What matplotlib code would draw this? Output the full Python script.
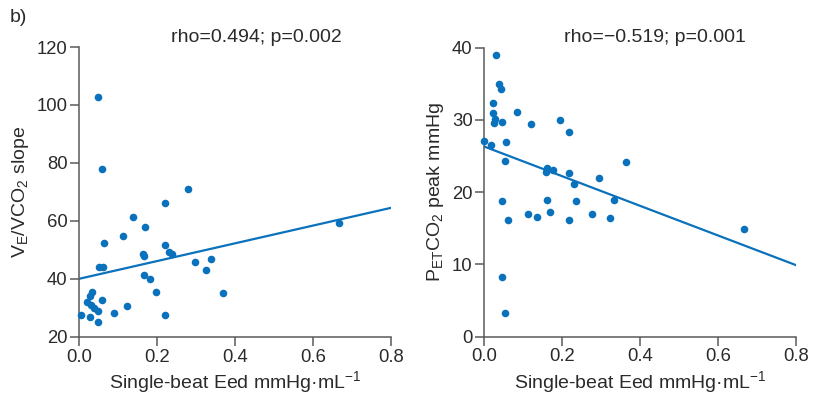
import matplotlib
matplotlib.use("Agg")
import matplotlib.pyplot as plt
import numpy as np

plt.rcParams['font.family'] = ['Liberation Sans', 'DejaVu Sans']
plt.rcParams['mathtext.fontset'] = 'custom'
plt.rcParams['mathtext.rm'] = 'Liberation Sans'

# Left panel: VE/VCO2 slope vs single-beat Eed
eed_left = [0.048, 0.057, 0.279, 0.219, 0.139, 0.169, 0.113, 0.063, 0.221, 0.163,
            0.166, 0.229, 0.238, 0.050, 0.061, 0.297, 0.337, 0.325, 0.167, 0.182,
            0.197, 0.368, 0.033, 0.027, 0.021, 0.057, 0.029, 0.038, 0.048, 0.123,
            0.088, 0.004, 0.027, 0.221, 0.048, 0.666]
ve_slope = [102.6, 78.0, 71.0, 66.3, 61.2, 57.9, 54.6, 52.4, 51.7, 48.6,
            48.0, 49.4, 48.7, 43.9, 43.9, 45.9, 46.8, 43.0, 41.3, 39.8,
            35.5, 35.1, 35.3, 33.9, 32.1, 32.8, 31.0, 29.8, 28.9, 30.6,
            28.2, 27.4, 26.8, 27.6, 25.1, 59.3]
fit_left = (40.0, 30.6)   # intercept, slope

# Right panel: PETCO2 peak vs single-beat Eed
eed_right = [0.031, 0.037, 0.043, 0.022, 0.022, 0.084, 0.028, 0.025, 0.044, 0.120,
             0.195, 0.218, 0.000, 0.017, 0.056, 0.052, 0.364, 0.160, 0.159, 0.176,
             0.217, 0.295, 0.230, 0.334, 0.162, 0.236, 0.045, 0.168, 0.111, 0.134,
             0.277, 0.061, 0.217, 0.324, 0.044, 0.053, 0.667]
petco2 = [39.0, 35.0, 34.3, 32.4, 31.0, 31.1, 30.1, 29.6, 29.7, 29.4,
          30.0, 28.3, 27.1, 26.5, 26.9, 24.3, 24.2, 23.4, 22.8, 23.0,
          22.7, 22.0, 21.1, 18.9, 18.9, 18.7, 18.7, 17.3, 17.0, 16.6,
          16.9, 16.1, 16.2, 16.4, 8.2, 3.3, 14.9]
fit_right = (26.3, -20.5)

x_ticks = [0.0, 0.2, 0.4, 0.6, 0.8]
y_ticks_left = [20, 40, 60, 80, 100, 120]
y_ticks_right = [0, 10, 20, 30, 40]

blue = '#0a72bd'
grey = '#5a5a5a'
tc = '#2a2a2a'
W, H = 813, 403
fig = plt.figure(figsize=(W / 100, H / 100), dpi=100)

def px_axes(x0, x1, ytop, ybot):
    return fig.add_axes([x0 / W, 1 - ybot / H, (x1 - x0) / W, (ybot - ytop) / H])

axL = px_axes(79.3, 391.0, 47.0, 336.7)
axR = px_axes(484.4, 795.7, 47.7, 336.5)

def style(ax, yt, ylim):
    ax.set_xlim(0, 0.8)
    ax.set_ylim(*ylim)
    ax.set_xticks(x_ticks)
    ax.set_xticklabels([f"{v:.1f}" for v in x_ticks])
    ax.set_yticks(yt)
    for s in ['top', 'right']:
        ax.spines[s].set_visible(False)
    for s in ['left', 'bottom']:
        ax.spines[s].set_color(grey)
        ax.spines[s].set_linewidth(1.1)
    ax.tick_params(direction='out', length=6.5, width=1.1, color=grey,
                   labelsize=13.3, labelcolor=tc, pad=2)
    ax.set_xlabel('Single-beat Eed mmHg·mL$^{\u2212\\mathregular{1}}$', fontsize=14,
                  color=tc, labelpad=3)

style(axL, y_ticks_left, (20, 120))
style(axR, y_ticks_right, (0, 40))

axL.scatter(eed_left, ve_slope, s=30, color=blue, linewidths=0, zorder=3, clip_on=False)
axR.scatter(eed_right, petco2, s=30, color=blue, linewidths=0, zorder=3, clip_on=False)

xs = np.array([0.0, 0.8])
axL.plot(xs, fit_left[0] + fit_left[1] * xs, color=blue, lw=1.6, zorder=2)
axR.plot(xs, fit_right[0] + fit_right[1] * xs, color=blue, lw=1.6, zorder=2)

axL.set_ylabel(r'V$_\mathregular{E}$/VCO$_\mathregular{2}$ slope', fontsize=14,
               color=tc, labelpad=4)
axR.set_ylabel(r'P$_\mathregular{ET}$CO$_\mathregular{2}$ peak mmHg', fontsize=14,
               color=tc, labelpad=4)

fig.text(256 / W, 1 - 37 / H, 'rho=0.494; p=0.002', fontsize=14, ha='center',
         va='center', color=tc)
fig.text(655 / W, 1 - 37 / H, 'rho=\u22120.519; p=0.001', fontsize=14, ha='center',
         va='center', color=tc)
fig.text(10 / W, 1 - 18 / H, 'b)', fontsize=14, ha='left', va='center', color=tc)

fig.savefig('out.png', dpi=100)
